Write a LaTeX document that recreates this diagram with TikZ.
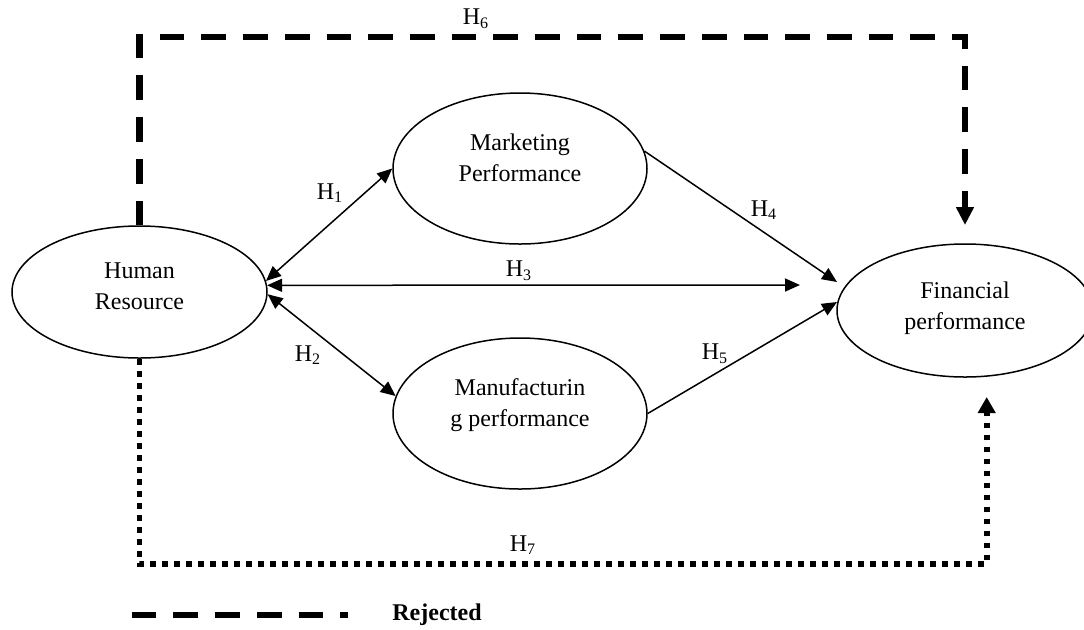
\documentclass[tikz,border=0pt]{standalone}
\usepackage{fontspec}
\setmainfont{Liberation Serif}
\usetikzlibrary{arrows.meta,shapes.geometric}
\begin{document}
\begin{tikzpicture}[x=0.5pt,y=-0.5pt,
  latent/.style={draw, ellipse, line width=0.75pt, inner sep=0pt},
  txt/.style={align=center, font=\fontsize{12}{15.75}\selectfont, inner sep=0pt},
  hyp/.style={font=\fontsize{12}{14}\selectfont, inner sep=0pt},
  link/.style={line width=0.75pt, -{Triangle[length=7.5pt,width=6.5pt]}},
  both/.style={line width=0.75pt, {Triangle[length=7.5pt,width=6.5pt]}-{Triangle[length=7.5pt,width=6.5pt]}},
  rejected/.style={line width=3.3pt, dash pattern=on 12.35pt off 8.5pt},
  dotline/.style={line width=2.9pt, dash pattern=on 2.9pt off 3.1pt},
]
\useasboundingbox (0,0) rectangle (1084,629);

% latent variables
\node[latent, minimum width=127.5pt, minimum height=66pt] (hr) at (139.5,292) {};
\node[latent, minimum width=127pt, minimum height=75.5pt] (mk) at (520,168.5) {};
\node[latent, minimum width=127pt, minimum height=75.5pt] (mf) at (520,413.5) {};
\node[latent, minimum width=128pt, minimum height=66.5pt] (fp) at (965,310.5) {};

\node[txt] (hrT) at (139.5,286) {Human\\Resource};
\node[txt] (mkT) at (520,158) {Marketing\\Performance};
\node[txt] (mfT) at (520,405) {Manufacturin\\g performance};
\node[txt] (fpT) at (965,308) {Financial\\performance};

% free ends
\coordinate (t3) at (800,285);
\coordinate (t4) at (837,282);
\coordinate (t5) at (837,302);
\coordinate (t6) at (965,225);
\coordinate (t7) at (986.7,397);
\coordinate (topline) at (0,37);
\coordinate (botline) at (0,564);

% structural paths
\draw[both] (hr.5) -- (mk.west);
\draw[both] (hr.-1) -- (mf.172);
\draw[both] (hr.3) -- (t3);
\draw[link] (mk.8) -- (t4);
\draw[link] (mf.east) -- (t5);

% rejected hypothesis (dashed)
\draw[rejected, -{Triangle[length=9pt,width=8.5pt]}] (hr.north) -- (hr.north |- topline) -| (t6);
% dotted hypothesis
\draw[dotline, -{Triangle[length=8pt,width=8.5pt]}] (hr.south) -- (hr.south |- botline) -| (t7);

% labels
\node[hyp] (h1) at (330,193) {H\textsubscript{1}};
\node[hyp] (h2) at (308,355) {H\textsubscript{2}};
\node[hyp] (h3) at (519,271) {H\textsubscript{3}};
\node[hyp] (h4) at (764,210) {H\textsubscript{4}};
\node[hyp] (h5) at (715,354) {H\textsubscript{5}};
\node[hyp] (h6) at (476,19) {H\textsubscript{6}};
\node[hyp] (h7) at (523,545) {H\textsubscript{7}};

% legend
\coordinate (la) at (131.7,615);
\coordinate (lb) at (348,615);
\draw[rejected] (la) -- (lb);
\node[anchor=base west, inner sep=0pt, font=\fontsize{12}{14}\selectfont\bfseries] (rej) at (392,620) {Rejected};
\end{tikzpicture}
\end{document}
